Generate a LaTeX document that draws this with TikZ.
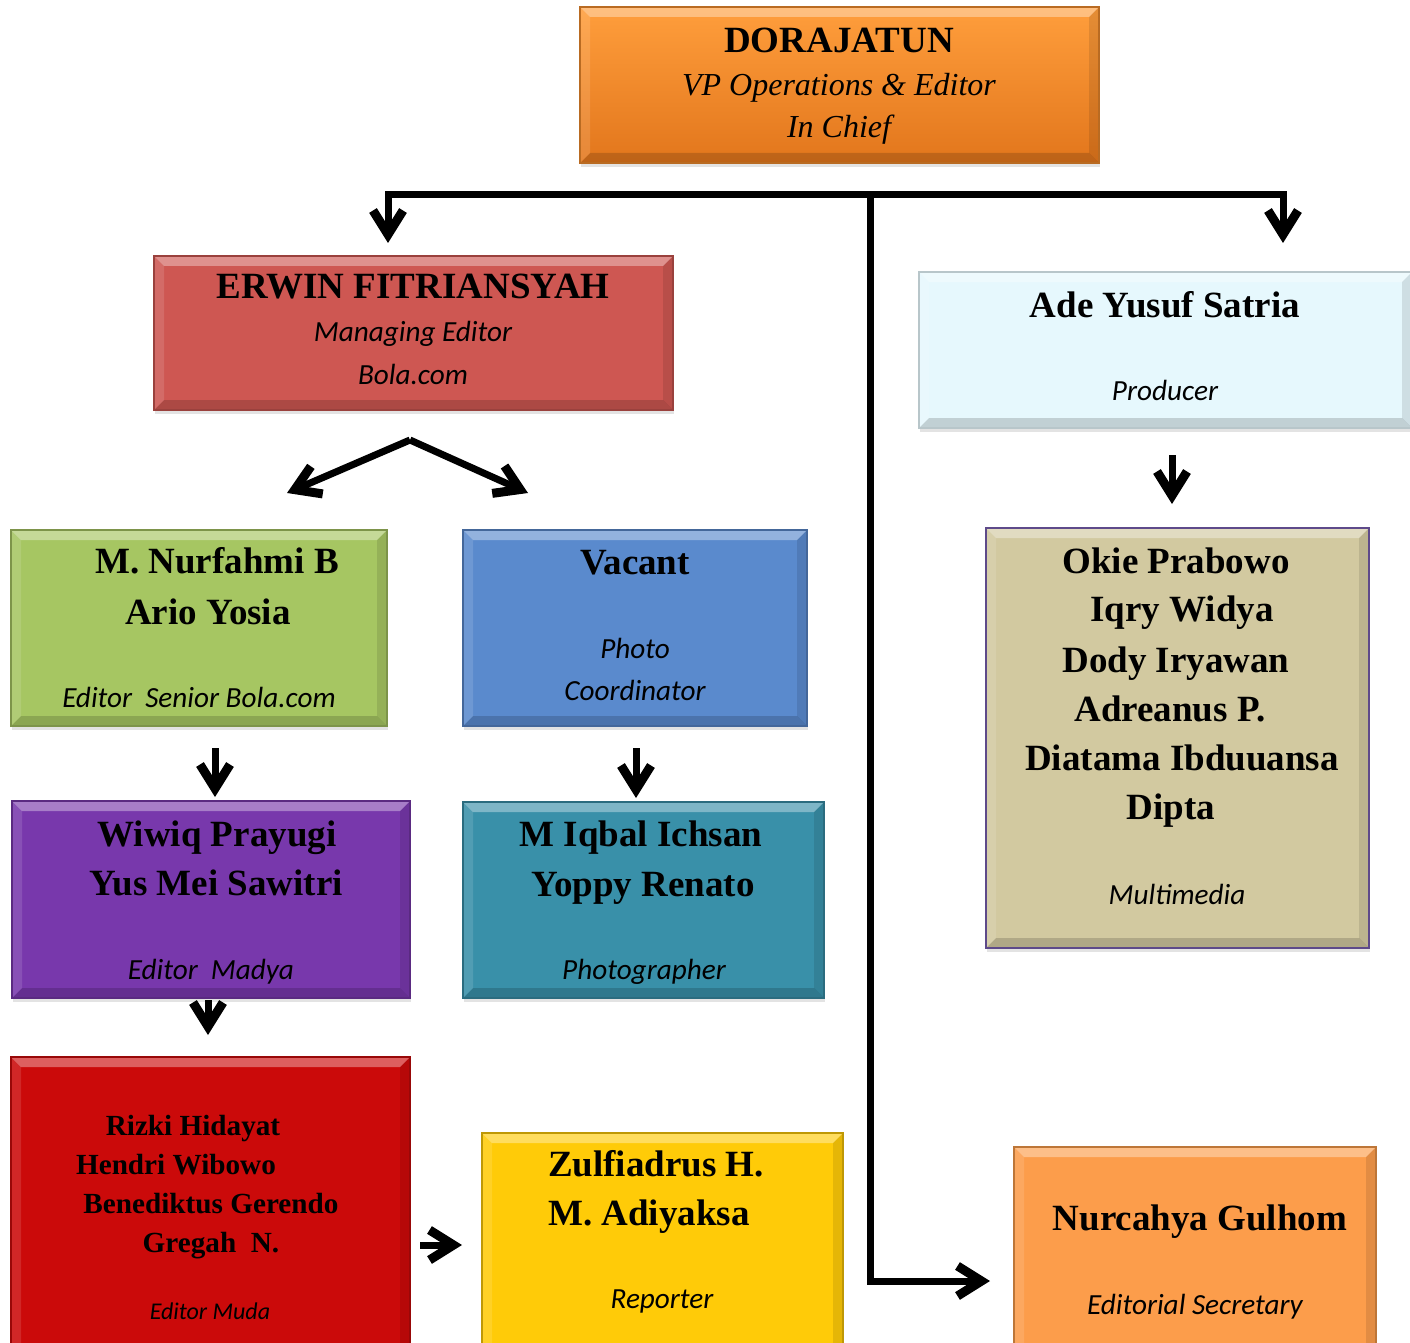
\documentclass[tikz,border=0pt]{standalone}
\usepackage{fontspec}
\setmainfont{Liberation Serif}
\newfontfamily\calib{Carlito}
\usetikzlibrary{arrows.meta,shadows}

\definecolor{cTop}{HTML}{F78F2E}
\definecolor{cTopHi}{HTML}{FF9E3C}
\definecolor{cTopLo}{HTML}{E2761C}
\definecolor{cErwin}{HTML}{CE5752}
\definecolor{cAde}{HTML}{E6F8FD}
\definecolor{cGreen}{HTML}{A6C662}
\definecolor{cBlue}{HTML}{5A8ACD}
\definecolor{cTan}{HTML}{D2C9A0}
\definecolor{cPurple}{HTML}{7838AC}
\definecolor{cTeal}{HTML}{3990A9}
\definecolor{cRed}{HTML}{CB0A0A}
\definecolor{cYellow}{HTML}{FFCB08}
\definecolor{cOrange}{HTML}{FC9D4B}
\definecolor{cTanBorder}{HTML}{5E4A8A}

\tikzset{
  bevel/.style={path picture={
    \fill[white,opacity=.35] (path picture bounding box.north west) -- (path picture bounding box.north east)
      -- ([xshift=-5pt,yshift=-5pt]path picture bounding box.north east) -- ([xshift=5pt,yshift=-5pt]path picture bounding box.north west) -- cycle;
    \fill[black,opacity=.16] (path picture bounding box.south west) -- (path picture bounding box.south east)
      -- ([xshift=-5pt,yshift=5pt]path picture bounding box.south east) -- ([xshift=5pt,yshift=5pt]path picture bounding box.south west) -- cycle;
    \fill[white,opacity=.12] (path picture bounding box.north west) -- ([xshift=5pt,yshift=-5pt]path picture bounding box.north west)
      -- ([xshift=5pt,yshift=5pt]path picture bounding box.south west) -- (path picture bounding box.south west) -- cycle;
    \fill[black,opacity=.10] (path picture bounding box.north east) -- ([xshift=-5pt,yshift=-5pt]path picture bounding box.north east)
      -- ([xshift=-5pt,yshift=5pt]path picture bounding box.south east) -- (path picture bounding box.south east) -- cycle;
  }},
  box/.style={draw=#1!75!black, line width=0.7pt, fill=#1, inner sep=0pt, outer sep=0pt, bevel,
    drop shadow={shadow xshift=0.6pt, shadow yshift=-2pt, opacity=0.22}},
  nm/.style={font=\bfseries\fontsize{18.5}{22}\selectfont, anchor=base, inner sep=0pt},
  nmsmall/.style={font=\bfseries\fontsize{14.6}{18}\selectfont, anchor=base, inner sep=0pt},
  srit/.style={font=\itshape\fontsize{16}{19}\selectfont, anchor=base, inner sep=0pt},
  rl/.style={font=\calib\itshape\fontsize{14.6}{17}\selectfont, anchor=base, inner sep=0pt},
  rlsmall/.style={font=\calib\itshape\fontsize{12}{14}\selectfont, anchor=base, inner sep=0pt},
  conn/.style={line width=3.5pt, black},
  tip/.tip={Straight Barb[length=12pt,width=15pt,line width=4.5pt]},
  arr/.style={conn, -tip},
  arrs/.style={conn, tip-tip},
}

\begin{document}
\begin{tikzpicture}[x=0.5pt,y=-0.5pt]
\useasboundingbox (0,0) rectangle (1410,1343);
\clip (0,0) rectangle (1410,1343);
\fill[white] (0,0) rectangle (1410,1343);

% boxes
\node[box=cTop, top color=cTopHi, bottom color=cTopLo, minimum width=259.5pt, minimum height=78pt] (top) at (839.5,85) {};
\node[box=cErwin, minimum width=259.5pt, minimum height=77pt] (erwin) at (413.5,333) {};
\node[box=cAde, draw=cAde!80!black, minimum width=246.5pt, minimum height=78pt] (ade) at (1165.5,350) {};
\node[box=cGreen, minimum width=188pt, minimum height=98pt] (nurf) at (199,628) {};
\node[box=cBlue, minimum width=172pt, minimum height=98pt] (vac) at (635,628) {};
\node[box=cTan, draw=cTanBorder, minimum width=191.5pt, minimum height=210pt] (okie) at (1177.5,738) {};
\node[box=cPurple, minimum width=199pt, minimum height=98.5pt] (wiwiq) at (211,899.5) {};
\node[box=cTeal, minimum width=180.5pt, minimum height=98pt] (iqbal) at (643.5,900) {};
\node[box=cRed, minimum width=199.5pt, minimum height=151.5pt] (redbox) at (210.5,1208.5) {};
\node[box=cYellow, minimum width=180.5pt, minimum height=113.5pt] (yel) at (662.5,1246.5) {};
\node[box=cOrange, minimum width=181pt, minimum height=106.5pt] (nurc) at (1195,1253.5) {};

% texts
\node[nm] (t1) at (839,53) {DORAJATUN};
\node[srit] (t2) at (839,96) {VP Operations \& Editor};
\node[srit] (t3) at (839,138) {In Chief};

\node[nm] (e1) at (413,299) {ERWIN FITRIANSYAH};
\node[rl] (e2) at (413,342) {Managing Editor};
\node[rl] (e3) at (413,384) {Bola.com};

\node[nm] (a1) at (1165,317) {Ade Yusuf Satria};
\node[rl] (a2) at (1165,400) {Producer};

\node[nm] (n1) at (217,573) {M. Nurfahmi B};
\node[nm] (n2) at (208,624) {Ario Yosia};
\node[rl] (n3) at (199,707) {Editor~~Senior Bola.com};

\node[nm] (v1) at (635,574) {Vacant};
\node[rl] (v2) at (635,658) {Photo};
\node[rl] (v3) at (635,700) {Coordinator};

\node[nm] (o1) at (1176,573) {Okie Prabowo};
\node[nm] (o2) at (1182,621) {Iqry Widya};
\node[nm] (o3) at (1176,672) {Dody Iryawan};
\node[nm] (o4) at (1170,721) {Adreanus P.};
\node[nm] (o5) at (1182,770) {Diatama Ibduuansa};
\node[nm] (o6) at (1171,819) {Dipta};
\node[rl] (o7) at (1177,904) {Multimedia};

\node[nm] (w1) at (217,846) {Wiwiq Prayugi};
\node[nm] (w2) at (216,895) {Yus Mei Sawitri};
\node[rl] (w3) at (211,979) {Editor~~Madya};

\node[nm] (i1) at (641,846) {M Iqbal Ichsan};
\node[nm] (i2) at (643,896) {Yoppy Renato};
\node[rl] (i3) at (644,979) {Photographer};

\node[nmsmall] (r1) at (193,1135) {Rizki Hidayat};
\node[nmsmall] (r2) at (176,1174) {Hendri Wibowo};
\node[nmsmall] (r3) at (211,1213) {Benediktus Gerendo};
\node[nmsmall] (r4) at (211,1252) {Gregah~~N.};
\node[rlsmall] (r5) at (210,1319) {Editor Muda};

\node[nm] (y1) at (656,1176) {Zulfiadrus H.};
\node[nm] (y2) at (649,1225) {M. Adiyaksa};
\node[rl] (y3) at (662,1308) {Reporter};

\node[nm] (s1) at (1200,1230) {Nurcahya Gulhom};
\node[rl] (s2) at (1195,1314) {Editorial Secretary};

% connector coordinates
\coordinate (barL) at (388,195);
\coordinate (barR) at (1283,195);
\coordinate (trunk) at (870,195);
\coordinate (erwinIn) at (388,243);
\coordinate (adeIn) at (1283,243);
\coordinate (bend) at (870,1281);
\coordinate (nurcIn) at (990,1281);
\coordinate (apex) at (410,440);
\coordinate (nurfIn) at (287,493);
\coordinate (vacIn) at (528,493);

% connectors
\draw[arrs] (erwinIn) -- (barL) -- (barR) -- (adeIn);
\draw[arr] (trunk) -- (bend) -- (nurcIn);
\draw[arr] (apex) -- (nurfIn);
\draw[arr] (apex) -- (vacIn);
\draw[arr] (1172,455) -- ([yshift=12pt]okie.north -| 1172,0);
\draw[arr] (215,748) -- ([yshift=2pt]wiwiq.north -| 215,0);
\draw[arr] (636,748) -- ([yshift=2pt]iqbal.north -| 636,0);
\draw[arr] (208,1000) -- ([yshift=11pt]redbox.north -| 208,0);
\draw[arr] (420,1245) -- ([xshift=-10pt]yel.west |- 0,1245);
\end{tikzpicture}
\end{document}
